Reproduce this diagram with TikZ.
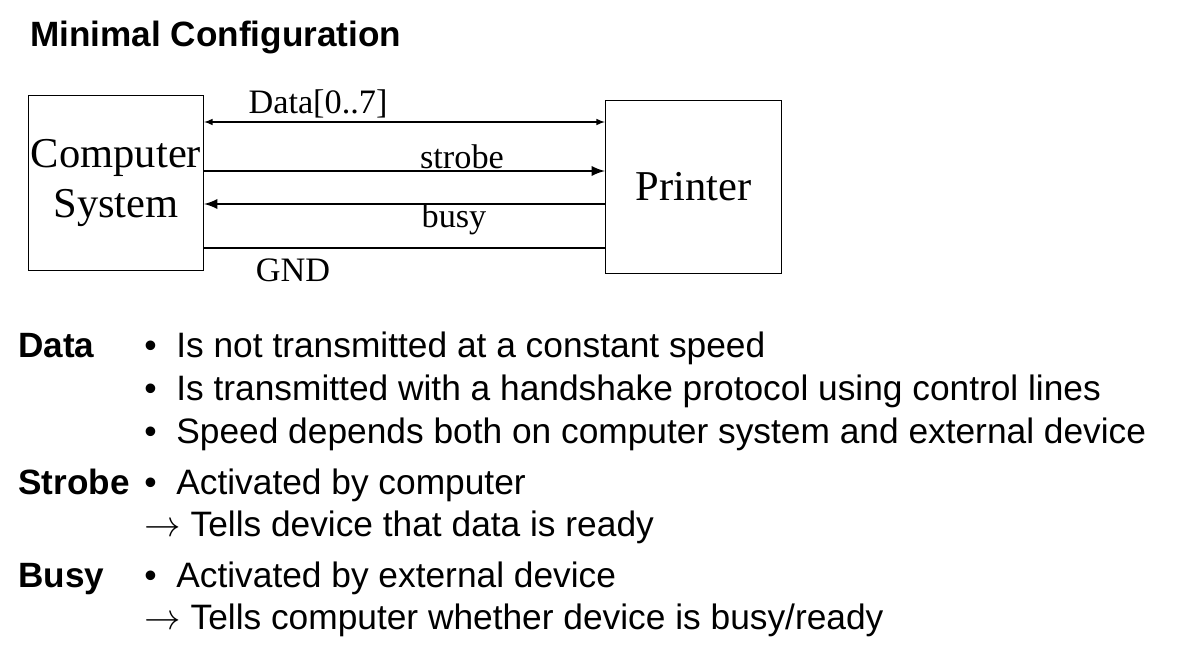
\documentclass[tikz,border=0pt]{standalone}
\usepackage{fontspec}
\setmainfont{Liberation Serif}
\setsansfont{Liberation Sans}
\usetikzlibrary{calc,positioning,arrows}

\begin{document}
\begin{tikzpicture}[x=0.02cm,y=-0.02cm,
	unitbox/.style={draw,line width=0.6pt,inner sep=1pt,minimum width=3.5cm,minimum height=3.5cm,align=center,
		font=\fontsize{24.2}{28.5}\selectfont},
	wirelabel/.style={font=\fontsize{19.5}{22}\selectfont},
	thinwire/.style={line width=0.7pt},
	thickwire/.style={line width=1.6pt},
	txt/.style={anchor=base west,inner sep=0pt,font=\sffamily\fontsize{20.1}{24}\selectfont},
	head/.style={txt,font=\sffamily\bfseries\fontsize{20}{24}\selectfont}]
	\useasboundingbox (0,0) rectangle (1179,655);
	\coordinate (OR) at (28,95);
	\coordinate (PR) at (605,100);
	% boxes
	\node[unitbox,anchor=north west] (comp) at (OR) {Computer\\System};
	\node[unitbox,anchor=north west,minimum height=3.46cm,minimum width=3.52cm] (prn) at (PR) {Printer};
	% wires
	\draw[thinwire,latex-latex] ($ (comp.north east) + (0,27) $) to ($ (prn.north west) + (0,22) $);
	\draw[thickwire,-latex] ($ (comp.north east) + (0,76) $) to ($ (prn.north west) + (0,71) $);
	\draw[thickwire,latex-] ($ (comp.north east) + (0,109) $) to ($ (prn.north west) + (0,104) $);
	\draw[thinwire] ($ (comp.north east) + (0,153) $) to ($ (prn.north west) + (0,148) $);
	\node[wirelabel] (datalbl) at (318,104) {Data[0..7]};
	\node[wirelabel] (strobelbl) at (462,157) {strobe};
	\node[wirelabel] (busylbl) at (454,219) {busy};
	\node[wirelabel] (gndlbl) at (293,270) {GND};
	% title
	\node[head] (title) at (30,47) {Minimal Configuration};
	% explanations
	\node[head] (data) at (18,357) {Data};
	\node[head] (strobe) at (18,494) {Strobe};
	\node[head] (busy) at (18,587) {Busy};
	\node[txt] (b1) at (144,357) {\textbullet};
	\node[txt] (b2) at (144,400) {\textbullet};
	\node[txt] (b3) at (144,443) {\textbullet};
	\node[txt] (b4) at (144,494) {\textbullet};
	\node[txt] (b5) at (144,587) {\textbullet};
	\node[txt] (t1) at (176,357) {Is not transmitted at a constant speed};
	\node[txt] (t2) at (176,400) {Is transmitted with a handshake protocol using control lines};
	\node[txt] (t3) at (176,443) {Speed depends both on computer system and external device};
	\node[txt] (t4) at (176,494) {Activated by computer};
	\node[txt] (t5) at (144,536) {$\rightarrow$ Tells device that data is ready};
	\node[txt] (t6) at (176,587) {Activated by external device};
	\node[txt] (t7) at (144,629) {$\rightarrow$ Tells computer whether device is busy/ready};
\end{tikzpicture}
\end{document}
